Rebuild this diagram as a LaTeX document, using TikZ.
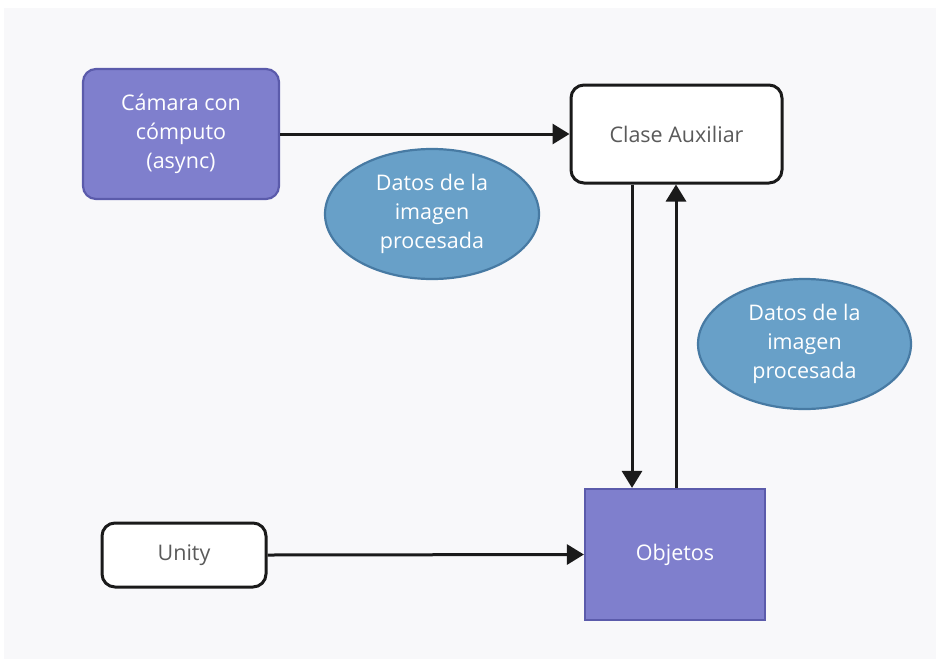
\documentclass[tikz,border=0pt]{standalone}
\usepackage{fontspec}
\setmainfont{Open Sans}
\usetikzlibrary{arrows.meta,shapes.geometric}
\definecolor{pagebg}{HTML}{F8F8FA}
\definecolor{purplefill}{HTML}{7F7FCD}
\definecolor{purpleline}{HTML}{5B5BAB}
\definecolor{bluefill}{HTML}{68A0C8}
\definecolor{blueline}{HTML}{477AA3}
\definecolor{darktext}{HTML}{5A5A5A}
\definecolor{edge}{HTML}{1A1A1A}
\tikzset{
  lbl/.style={font=\fontsize{21.5}{29}\selectfont, align=center, inner sep=0pt},
  purplebox/.style={lbl, draw=purpleline, fill=purplefill, line width=2.2pt, text=white},
  whitebox/.style={lbl, draw=edge, fill=white, line width=3pt, rounded corners=13pt, text=darktext},
  bubble/.style={lbl, ellipse, draw=blueline, fill=bluefill, line width=2.2pt, text=white},
  arr/.style={draw=edge, line width=3pt, -{Triangle[length=17pt,width=20pt]}}
}
\begin{document}
\begin{tikzpicture}[x=1pt,y=-1pt]
  % canvas
  \fill[white] (0,0) rectangle (936,659);
  \fill[pagebg] (4,8) rectangle (936,659);
  \useasboundingbox (0,0) rectangle (936,659);

  % boxes
  \node[purplebox, rounded corners=13pt, minimum width=196pt, minimum height=130pt]
    (cam) at (181,134) {Cámara con\\cómputo\\(async)};
  \node[whitebox, minimum width=211pt, minimum height=98pt]
    (aux) at (676.5,134) {Clase Auxiliar};
  \node[whitebox, minimum width=164pt, minimum height=64pt]
    (unity) at (184,555) {Unity};
  \node[purplebox, minimum width=180pt, minimum height=131pt]
    (obj) at (675,554.5) {Objetos};

  % data bubbles
  \node[bubble, minimum width=214pt, minimum height=130pt]
    (d1) at (432,214) {Datos de la\\imagen\\procesada};
  \node[bubble, minimum width=213pt, minimum height=130pt]
    (d2) at (804.5,344) {Datos de la\\imagen\\procesada};

  % connector columns
  \coordinate (down) at (632,0);
  \coordinate (up) at (676,0);

  % connectors
  \draw[arr] (cam.east) -- (aux.west);
  \draw[arr] (aux.south -| down) -- (obj.north -| down);
  \draw[arr] (obj.north -| up) -- (aux.south -| up);
  \draw[arr] (unity.east) -- (obj.west);
\end{tikzpicture}
\end{document}
